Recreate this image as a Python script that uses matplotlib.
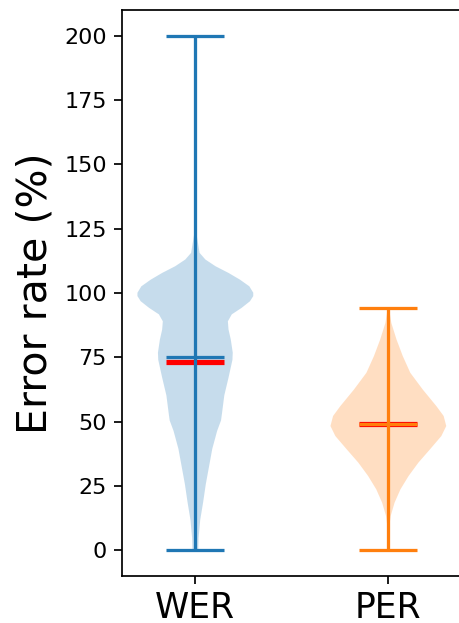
import numpy as np
import matplotlib
matplotlib.use("Agg")
import matplotlib.pyplot as plt

categories = ["WER", "PER"]

# density profiles (value, relative density)
wer_coords = [0, 4.8, 11.8, 18.7, 25.6, 32.5, 39.4, 46.4, 50.5, 53.3, 60.2, 67.1, 74.0,
              76.8, 81.9, 85.8, 89.0, 91.7, 94.2, 96.8, 98.8, 100.1, 102.6, 105.2,
              107.8, 110.4, 113.0, 115.6, 119.5, 125.0, 200.0]
wer_dens = [9, 10, 15, 24, 32, 42, 52, 67, 79, 82, 89, 102, 114,
            115, 109, 102, 100, 112, 142, 168, 178, 178, 166, 137,
            102, 62, 31, 13, 8, 1, 0]
per_coords = [0, 8.2, 13.3, 18.5, 23.7, 28.9, 34.1, 39.2, 44.4, 48.3, 52.2, 56.0,
              62.5, 69.0, 75.5, 81.9, 88.4, 94.2]
per_dens = [0, 2, 7, 19, 37, 62, 92, 127, 162, 177, 169, 147,
            105, 67, 44, 25, 9, 2]

means = [73.3, 49.2]
medians = [75.3, 48.9]
mins = [0.0, 0.0]
maxs = [200.0, 94.2]

yticks = [0, 25, 50, 75, 100, 125, 150, 175, 200]
colors = ["#1f77b4", "#ff7f0e"]

DPI = 156
fig = plt.figure(figsize=(459 / DPI, 623 / DPI), dpi=DPI)
ax = fig.add_axes([122 / 459, 47 / 623, 339.7 / 459, 566 / 623])

vpstats = []
for c, d, mn, md, lo, hi in zip([wer_coords, per_coords], [wer_dens, per_dens],
                                means, medians, mins, maxs):
    vpstats.append(dict(coords=np.array(c, float), vals=np.array(d, float),
                        mean=mn, median=md, min=lo, max=hi))

parts = ax.violin(vpstats, positions=[1, 2], widths=0.6,
                  showmeans=True, showextrema=True, showmedians=True)
for body, col in zip(parts["bodies"], colors):
    body.set_facecolor(col)
    body.set_edgecolor("none")
    body.set_alpha(0.25)
for key in ["cbars", "cmins", "cmaxes", "cmedians"]:
    parts[key].set_color(colors)
    parts[key].set_linewidth(1.5)
parts["cmeans"].set_color("red")
parts["cmeans"].set_linewidth(2.4)

ax.set_xticks([1, 2])
ax.set_xticklabels(categories, fontsize=16)
ax.set_yticks(yticks)
ax.tick_params(axis="y", labelsize=10.3)
ax.set_ylim(-10, 210)
ax.set_xlim(0.62, 2.38)
ax.set_ylabel("Error rate (%)", fontsize=19)

fig.savefig("out.png", dpi=DPI)
